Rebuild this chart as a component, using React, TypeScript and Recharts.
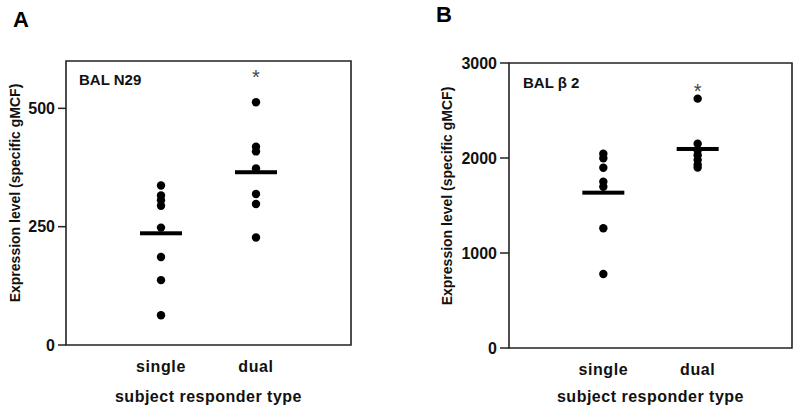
import React from 'react';
import { ScatterChart, Scatter, XAxis, YAxis, ReferenceArea } from 'recharts';

// ---- data ----
const categories = ['single', 'dual'];

const n29Single = [337, 316, 306, 294, 248, 186, 137, 63];
const n29Dual = [513, 419, 409, 373, 319, 298, 227];
const n29Means = [236, 365];
const n29Ticks = [0, 250, 500];
const n29Star = 574;

const b2Single = [2045, 1997, 1898, 1751, 1698, 1260, 779];
const b2Dual = [2625, 2150, 2080, 2030, 1980, 1930, 1900];
const b2Means = [1635, 2095];
const b2Ticks = [0, 1000, 2000, 3000];
const b2Star = 2745;

const FONT = "Arial, 'Liberation Sans', sans-serif";

const toPoints = (single: number[], dual: number[]) => [
  ...single.map((v) => ({ x: 1, y: v })),
  ...dual.map((v) => ({ x: 2, y: v })),
];

const Dot = (p: any) => <circle cx={p.cx} cy={p.cy} r={4.2} fill="#000" />;
const MeanBar = (p: any) => (
  <rect x={p.cx - 21} y={p.cy - 2} width={42} height={4} fill="#000" />
);
const Star = (p: any) => (
  <text x={p.cx} y={p.cy + 11} textAnchor="middle" fontSize={20} fill="#444" fontFamily={FONT}>
    *
  </text>
);

type PanelProps = {
  letter: string;
  letterX: number;
  letterY: number;
  title: string;
  single: number[];
  dual: number[];
  means: number[];
  ticks: number[];
  yMax: number;
  star: number;
  margin: { top: number; right: number; bottom: number; left: number };
  yAxisWidth: number;
  yTickSize: number;
  yLabelX: number;
  yLabelY: number;
  titleOffset: number;
  tickFont: number;
};

const Panel = (props: PanelProps) => {
  const pts = toPoints(props.single, props.dual);
  const meanPts = props.means.map((m, i) => ({ x: i + 1, y: m }));
  const starPts = [{ x: 2, y: props.star }];
  return (
    <div style={{ position: 'relative', width: 400, height: 413 }}>
      <div
        style={{
          position: 'absolute',
          left: props.letterX,
          top: props.letterY,
          fontFamily: FONT,
          fontWeight: 'bold',
          fontSize: 22,
          lineHeight: '22px',
          color: '#000',
        }}
      >
        {props.letter}
      </div>
      <ScatterChart width={400} height={413} margin={props.margin}>
        <ReferenceArea
          x1={0}
          x2={3}
          y1={0}
          y2={props.yMax}
          fill="none"
          stroke="#222"
          strokeWidth={1.6}
          label={{
            value: props.title,
            position: 'insideTopLeft',
            offset: props.titleOffset,
            style: { fontFamily: FONT, fontWeight: 'bold', fontSize: 15, fill: '#111' },
          }}
        />
        <XAxis
          type="number"
          dataKey="x"
          domain={[0, 3]}
          ticks={[1, 2]}
          tickFormatter={(v: number) => categories[v - 1]}
          axisLine={false}
          tickLine={false}
          tickSize={8}
          tickMargin={8}
          height={40}
          tick={{ fill: '#111', fontSize: 16, fontWeight: 'bold', fontFamily: FONT, letterSpacing: 0.6 }}
          label={{
            content: (lp: any) => {
              const vb = lp.viewBox || {};
              return (
                <text
                  x={(vb.x ?? 0) + (vb.width ?? 0) / 2}
                  y={402}
                  textAnchor="middle"
                  fontFamily={FONT}
                  fontWeight="bold"
                  fontSize={16}
                  letterSpacing={0.5}
                  fill="#111"
                >
                  subject responder type
                </text>
              );
            },
          }}
        />
        <YAxis
          type="number"
          dataKey="y"
          domain={[0, props.yMax]}
          ticks={props.ticks}
          width={props.yAxisWidth}
          axisLine={false}
          tickLine={{ stroke: '#222', strokeWidth: 1.5 }}
          tickSize={props.yTickSize}
          tickMargin={3}
          tick={{ fill: '#111', fontSize: props.tickFont, fontWeight: 'bold', fontFamily: FONT }}
          label={{
            content: () => (
              <text
                x={props.yLabelX}
                y={props.yLabelY}
                transform={`rotate(-90 ${props.yLabelX} ${props.yLabelY})`}
                textAnchor="middle"
                dominantBaseline="central"
                fontFamily={FONT}
                fontWeight="bold"
                fontSize={14}
                fill="#111"
              >
                Expression level (specific gMCF)
              </text>
            ),
          }}
        />
        <Scatter data={pts} shape={Dot} isAnimationActive={false} />
        <Scatter data={meanPts} shape={MeanBar} isAnimationActive={false} />
        <Scatter data={starPts} shape={Star} isAnimationActive={false} />
      </ScatterChart>
    </div>
  );
};

export default function App() {
  return (
    <div style={{ position: 'absolute', left: 0, top: 0, width: 800, height: 413, background: '#fff', display: 'flex' }}>
      <Panel
        letter="A"
        letterX={13}
        letterY={9}
        title="BAL N29"
        single={n29Single}
        dual={n29Dual}
        means={n29Means}
        ticks={n29Ticks}
        yMax={600}
        star={n29Star}
        margin={{ top: 61, right: 49, bottom: 28, left: 0 }}
        yAxisWidth={66}
        yTickSize={8}
        yLabelX={15}
        yLabelY={193}
        titleOffset={13}
        tickFont={16}
      />
      <Panel
        letter="B"
        letterX={36}
        letterY={4}
        title="BAL β 2"
        single={b2Single}
        dual={b2Dual}
        means={b2Means}
        ticks={b2Ticks}
        yMax={3000}
        star={b2Star}
        margin={{ top: 63, right: 8, bottom: 25, left: 0 }}
        yAxisWidth={109}
        yTickSize={9}
        yLabelX={47}
        yLabelY={196}
        titleOffset={14}
        tickFont={16}
      />
    </div>
  );
}
